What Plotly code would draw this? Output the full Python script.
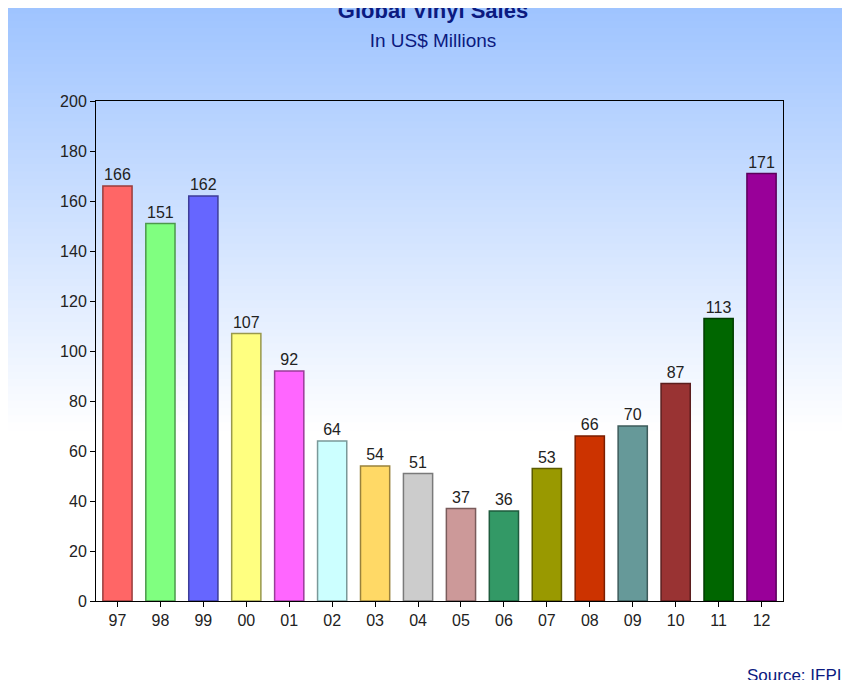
import plotly.graph_objects as go

years = ["97","98","99","00","01","02","03","04","05","06","07","08","09","10","11","12"]
sales = [166,151,162,107,92,64,54,51,37,36,53,66,70,87,113,171]
colors = ["#FF6666","#80FF80","#6666FF","#FFFF80","#FF66FF","#CCFFFF","#FFD966","#CCCCCC",
          "#CC9999","#339966","#999900","#CC3300","#669999","#993333","#006600","#990099"]

def darker(h, f=0.6):
    h = h.lstrip("#")
    r, g, b = (int(h[i:i+2], 16) for i in (0, 2, 4))
    return "rgb(%d,%d,%d)" % (r*f, g*f, b*f)

fig = go.Figure(go.Bar(
    x=years, y=sales, marker=dict(color=colors, line=dict(color=[darker(c) for c in colors], width=1.5)),
    text=[str(v) for v in sales], textposition="outside", cliponaxis=False,
    textfont=dict(family="Liberation Sans, Arial", size=16, color="#222"), width=0.68))

shapes = []
n = 60
top = (157, 195, 255)
ytop, ybot = 1.2, 0.34
for i in range(n):
    y0 = ytop - (ytop - ybot) * i / n
    y1 = ytop - (ytop - ybot) * (i + 1) / n
    t = (i + 0.5) / n
    c = tuple(int(top[k] + (255 - top[k]) * t) for k in range(3))
    shapes.append(dict(type="rect", xref="paper", yref="paper", x0=-0.13, x1=1.11, y0=y1, y1=y0 + 0.003,
                       fillcolor="rgb(%d,%d,%d)" % c, line=dict(width=0), layer="below"))

fig.update_layout(
    width=850, height=680, shapes=shapes,
    paper_bgcolor="white", plot_bgcolor="rgba(0,0,0,0)",
    margin=dict(l=88, r=75, t=93, b=87, autoexpand=False),
    showlegend=False, bargap=0.3,
    font=dict(family="Liberation Sans, Arial", color="#222", size=16),
    title=dict(text="<b>Global Vinyl Sales</b><br><span style='font-size:19px'>In US$ Millions</span>",
               x=0.5, xanchor="center", y=0.985, yanchor="top",
               font=dict(size=22, color="#0B1A80")),
    xaxis=dict(showline=True, linecolor="black", mirror=True, ticks="outside", ticklen=5,
               tickcolor="black", tickfont=dict(size=16)),
    yaxis=dict(range=[0, 200], dtick=20, showline=True, linecolor="black", mirror=True,
               ticks="outside", ticklen=5, tickcolor="black", showgrid=False, zeroline=False,
               tickfont=dict(size=16)),
    annotations=[dict(text="Source: IFPI", xref="paper", yref="paper", x=1.087, y=-0.148,
                      xanchor="right", yanchor="middle", showarrow=False,
                      font=dict(size=17, color="#0B1A80"))],
)
fig.write_html("out.html")
